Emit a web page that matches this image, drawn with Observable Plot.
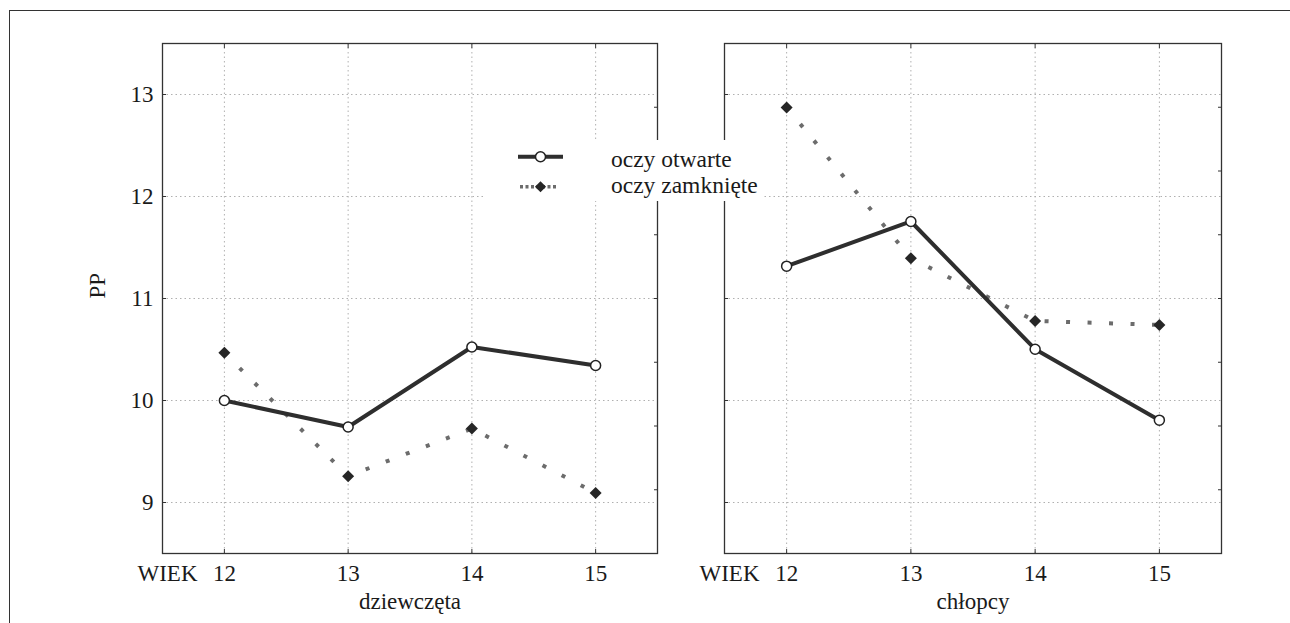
<!DOCTYPE html>
<html><head><meta charset="utf-8">
<script src="https://cdn.jsdelivr.net/npm/d3@7"></script>
<script src="https://cdn.jsdelivr.net/npm/@observablehq/plot@0.6"></script>
<style>
body{margin:0;background:#fff;font-family:"Liberation Serif","Times New Roman",Times,serif;}
#wrap{position:relative;width:1290px;height:623px;overflow:hidden;background:#fff;}
#border{position:absolute;left:9px;top:10px;width:1300px;height:640px;border-left:1px solid #333;border-top:1px solid #333;}
.panel{position:absolute;top:0;}
#legend{position:absolute;left:484px;top:140px;width:278px;height:61px;background:#fff;}
#legend text{font-family:"Liberation Serif","Times New Roman",Times,serif;font-size:23.5px;fill:#1a1a1a;}
</style></head><body>
<div id="wrap">
  <div id="border"></div>
  <div id="left" class="panel" style="left:0px"></div>
  <div id="right" class="panel" style="left:680px"></div>
  <div id="legend"></div>
</div>
<script>
// ---- data ----
const ages = [12, 13, 14, 15];
const girlsOpen   = [10.00, 9.74, 10.525, 10.343];
const girlsClosed = [10.467, 9.258, 9.725, 9.094];
const boysOpen    = [11.317, 11.755, 10.503, 9.807];
const boysClosed  = [12.873, 11.395, 10.78, 10.741];
const yTicks = [9, 10, 11, 12, 13];
const yRightTicks = [9.125, 9.75, 10.375, 11, 11.625, 12.25, 12.875];
const panelLabels = ["dziewczęta", "chłopcy"];
const seriesNames = ["oczy otwarte", "oczy zamknięte"];
const xLead = "WIEK";
const yLabel = "PP";

const FONT = "'Liberation Serif','Times New Roman',Times,serif";
const FS = 23;
const openColor = "#2e2e2e";
const closedColor = "#6c6c6c";
const markerColor = "#262626";
const txt = {fontFamily: FONT, fontSize: FS, fill: "#1a1a1a"};

function panel({open, closed, label, width, marginLeft, marginRight, showY}) {
  const table = ages.map((a, i) => ({age: a, open: open[i], closed: closed[i]}));
  const gridStyle = {stroke: "#b0b0b0", strokeOpacity: 1, strokeWidth: 1, strokeDasharray: "1.5,3"};
  return Plot.plot({
    width, height: 623,
    marginLeft, marginRight, marginTop: 43, marginBottom: 70,
    x: {domain: [11.5, 15.5]},
    y: {domain: [8.5, 13.5]},
    style: {fontFamily: FONT, fontSize: FS + "px", color: "#1a1a1a", background: "transparent", overflow: "visible"},
    marks: [
      Plot.gridY(yTicks, gridStyle),
      Plot.gridX(ages, gridStyle),
      Plot.frame({stroke: "#333", strokeWidth: 1.3}),
      Plot.axisY(yTicks, {anchor: "left", tickSize: -4, tickPadding: 13, label: null, stroke: "#333", tickFormat: d => String(d), ...txt, fill: showY ? "#1a1a1a" : "none"}),
      Plot.axisY(yRightTicks, {anchor: "right", tickSize: -4, label: null, stroke: "#333", fill: "none"}),
      Plot.axisX(ages, {anchor: "bottom", tickSize: -4, tickPadding: 15, label: null, stroke: "#333", tickFormat: d => String(d), ...txt}),
      Plot.axisX(ages, {anchor: "top", tickSize: -4, label: null, stroke: "#333", fill: "none"}),
      Plot.line(table, {x: "age", y: "closed", stroke: closedColor, strokeWidth: 4, strokeDasharray: "4,17.5", strokeLinecap: "butt"}),
      Plot.dot(table, {x: "age", y: "closed", symbol: "diamond2", r: 5.4, fill: markerColor, stroke: "none"}),
      Plot.line(table, {x: "age", y: "open", stroke: openColor, strokeWidth: 4}),
      Plot.dot(table, {x: "age", y: "open", r: 5, fill: "#fff", stroke: "#222", strokeWidth: 1.5}),
      Plot.text([xLead], {frameAnchor: "bottom-left", dx: -25, dy: 11, lineAnchor: "top", textAnchor: "start", ...txt}),
      Plot.text([label], {frameAnchor: "bottom", dy: 55.5, ...txt}),
      showY ? Plot.text([yLabel], {frameAnchor: "left", dx: -65, rotate: -90, ...txt}) : null
    ]
  });
}

document.getElementById("left").append(panel({open: girlsOpen, closed: girlsClosed, label: panelLabels[0], width: 680, marginLeft: 162, marginRight: 23, showY: true}));
document.getElementById("right").append(panel({open: boysOpen, closed: boysClosed, label: panelLabels[1], width: 610, marginLeft: 44, marginRight: 69, showY: false}));

// legend
const svg = d3.create("svg").attr("width", 278).attr("height", 61);
svg.append("line").attr("x1", 34).attr("x2", 79).attr("y1", 16.7).attr("y2", 16.7).attr("stroke", openColor).attr("stroke-width", 4);
svg.append("circle").attr("cx", 56.5).attr("cy", 16.7).attr("r", 5).attr("fill", "#fff").attr("stroke", "#222").attr("stroke-width", 1.5);
svg.append("line").attr("x1", 36).attr("x2", 73).attr("y1", 46.7).attr("y2", 46.7).attr("stroke", closedColor).attr("stroke-width", 3.5).attr("stroke-dasharray", "3,2.5");
svg.append("path").attr("transform", "translate(56.5,46.7)").attr("d", d3.symbol(d3.symbolDiamond2, Math.PI * 5 * 5)()).attr("fill", markerColor);
svg.append("text").attr("x", 127).attr("y", 26.7).text(seriesNames[0]);
svg.append("text").attr("x", 127).attr("y", 53.3).text(seriesNames[1]);
document.getElementById("legend").append(svg.node());
</script>
</body></html>
